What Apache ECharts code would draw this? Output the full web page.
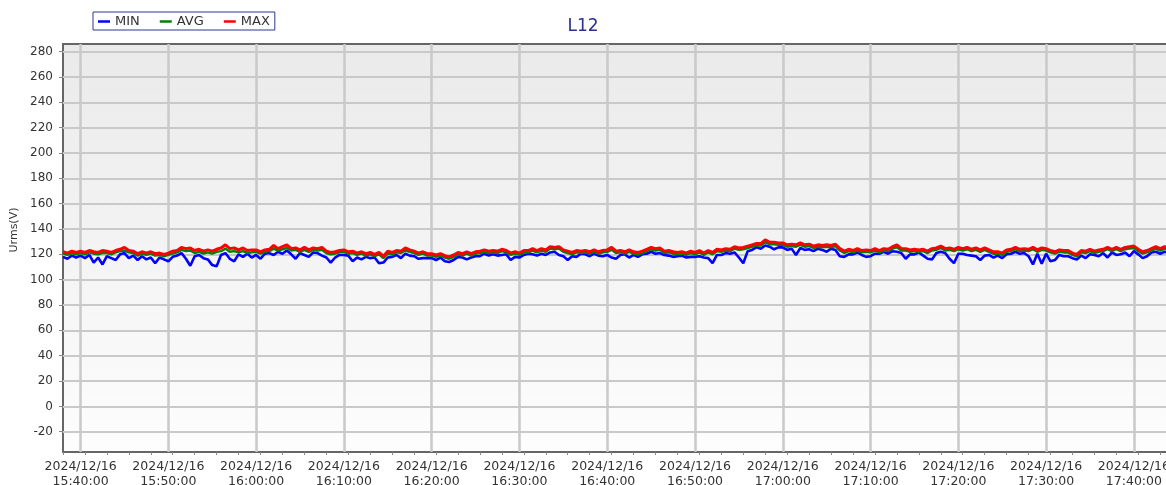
<!DOCTYPE html>
<html>
<head>
<meta charset="utf-8">
<title>L12</title>
<script src="https://cdn.jsdelivr.net/npm/echarts@6.0.0/dist/echarts.min.js"></script>
<style>
  html, body { margin: 0; padding: 0; background: #ffffff; }
  #chart { width: 1166px; height: 485px; }
</style>
</head>
<body>
<div id="chart"></div>
<script>
// Urms samples for phase pair L12, one reading every 30 s starting 2024/12/16 15:38:00 (UTC)
const dayUTC = Date.UTC(2024, 11, 16);
const startTime = dayUTC + (15 * 60 + 38) * 60000;
const stepMs = 30 * 1000;
const axisStart = dayUTC + (15 * 60 + 38) * 60000;
const axisEnd = dayUTC + (17 * 60 + 44) * 60000;

const seriesNames = ['MIN', 'AVG', 'MAX'];
const seriesColors = ['#0000ff', '#008000', '#ff0000'];
const seriesWidths = [2.6, 2.4, 3];
const yTickValues = [-20, 0, 20, 40, 60, 80, 100, 120, 140, 160, 180, 200, 220, 240, 260, 280];
const xTickTimes = ['15:40', '15:50', '16:00', '16:10', '16:20', '16:30', '16:40',
                    '16:50', '17:00', '17:10', '17:20', '17:30', '17:40'];

const minValues = [
  118,116.5,119,117.5,
  119,117,119.5,113.5,117.5,112,118.5,117,115.5,120,121,117,119,115.5,118.5,116,117.5,113,117.5,116,
  114.5,118,119,121,116.5,111,118.5,119.5,117,116,111.5,110.5,119.5,121,116.5,114.5,120,118,120.5,117.5,
  119.5,116.5,120.5,121,119.5,122,120.5,123,120,116.5,121,119.5,118,121.5,121,119,117.5,113.5,117.5,119.5,
  119.5,119,114.5,117.5,116,118,117,117.5,113,113.5,117.5,118,119.5,117,120.5,119,118.5,116.5,117,117,
  117,115.5,117.5,114.5,114,115.5,118,117.5,116,117.5,118.5,118.5,120.5,119,120,119,119.5,120,115.5,118,
  117.5,119.5,120.5,120,119,120.5,119.5,121.5,122,119.5,118.5,115.5,118.5,118,120.5,120,118.5,120.5,119,118.5,
  119.5,117.5,116.5,119.5,120,117.5,119.5,118,120,120.5,122,120.5,121,119.5,119,118,118.5,119,117.5,118,
  118,118.5,117.5,117,113,119.5,119.5,121,120.5,121.5,117.5,113,122.5,123.5,125.5,124.5,127,126,124,125.5,
  125.5,123.5,124.5,119.5,125,123.5,124,122.5,124.5,123.5,122,124.5,123.5,118.5,118,120,120,121.5,119.5,118,
  118.5,120.5,120.5,122,120.5,122.5,122,121,116.5,120,120,121.5,119,116.5,116,121,122,121,116.5,113,
  120.5,120.5,119.5,119,118.5,115.5,119,119.5,117.5,119,117,120,120.5,122,120.5,121,118.5,112,120.5,112.5,
  120.5,114.5,115.5,119.5,118.5,118.5,117,116,119,117,120,119.5,118.5,121,117.5,121.5,119.5,120,121.5,118.5,
  122.5,120,117,118.5,121.5,122,120.5,122,121
];

const avgValues = [
  120.5,119.5,121,120,
  121,120,121.5,120.5,120,121,121,120,121.5,122.5,123,121.5,121,119,120.5,119.5,120.5,119,119.5,118.5,
  119.5,120.5,121.5,123.5,122.5,123,121,122,120.5,121.5,120.5,122,122.5,124.5,122,122.5,121.5,122.5,121,121.5,
  122,120.5,122,122.5,124.5,123,124,125,123,123.5,122,123.5,122,123.5,123,123.5,121,120,120.5,121.5,
  122,120.5,121,119.5,120.5,119,120,118.5,120,117,120.5,120,121.5,121,123,122,121,119.5,120.5,119,
  119,118,119,117.5,116.5,118,120,119,120.5,119,120.5,121,122,121,121.5,121,122.5,121.5,119.5,120.5,
  119.5,121.5,121.5,123,121.5,123,122,124.5,124,124.5,122,121,120,121.5,121,121.5,120.5,122,120.5,121.5,
  122,123.5,121,121.5,120.5,122,120.5,120,121,122.5,124,123,123.5,121,121.5,120.5,120,120.5,119.5,121,
  120,121.5,119.5,121.5,120,122.5,122,123,122.5,124.5,123.5,124,125,126,127,127,129.5,128,128,127.5,
  127.5,126,126.5,126,127.5,126,126.5,125,126,125.5,126,125.5,126.5,123,121,122.5,121.5,123,121.5,122,
  121.5,123,121.5,123,122.5,124.5,125.5,123,123,122,122.5,122,122.5,121,123,123.5,125,123,123.5,122.5,
  124,123,124,122.5,123.5,122,123.5,122,120.5,120.5,119.5,122,122.5,124,122.5,123,122.5,124,122,123.5,
  123,121.5,120.5,122,121.5,121.5,119.5,118.5,121.5,121,122.5,121,122,122.5,124,122.5,124,122.5,124,124.5,
  125,122.5,120.5,121.5,123,124.5,123,124.5,123.5
];

const maxValues = [
  122,121,122.5,121.5,
  122.5,121.5,123,122,121.5,123,122.5,121.5,123,124,125.5,123,122.5,120.5,122,121,122,120.5,121,120,
  121,122.5,123,125.5,124.5,125,123,124,122.5,123.5,122.5,124,125,127.5,124.5,125,123.5,125,123,123.5,
  123.5,122,123.5,124,127,124.5,126,127.5,124.5,125,123.5,125.5,123.5,125,124.5,125.5,122.5,121.5,122,123,
  123.5,122,122.5,121,122,120.5,121.5,120,121.5,118.5,122.5,121.5,123,122.5,125,123.5,122.5,121,122,120.5,
  120.5,119.5,120.5,119,118,119.5,121.5,120.5,122,120.5,122,122.5,123.5,122.5,123,122.5,124,123,121,122,
  121,123,123,124.5,123,124.5,123.5,126,125.5,126,123.5,122.5,121.5,123,122.5,123,122,123.5,122,123,
  123.5,125.5,122.5,123,122,123.5,122,121.5,122.5,124,125.5,124.5,125,122.5,123,122,121.5,122,121,122.5,
  121.5,123,121,123,121.5,124,123.5,124.5,124,126,125,125.5,126.5,127.5,128.5,128.5,131.5,129.5,129.5,129,
  129,127.5,128,127.5,129,127.5,128,126.5,127.5,127,127.5,127,128,124.5,122.5,124,123,124.5,123,123.5,
  123,124.5,123,124.5,124,126,127.5,124.5,124.5,123.5,124,123.5,124,122.5,124.5,125,126.5,124.5,125,124,
  125.5,124.5,125.5,124,125,123.5,125,123.5,122,122,121,123.5,124,125.5,124,124.5,124,125.5,123.5,125,
  124.5,123,122,123.5,123,123,121,120,123,122.5,124,122.5,123.5,124,125.5,124,125.5,124,125.5,126,
  126.5,124,122,123,124.5,126,124.5,126,125
];

const valueLists = [minValues, avgValues, maxValues];

function clockToMs(hhmm) {
  const parts = hhmm.split(':');
  return dayUTC + (Number(parts[0]) * 60 + Number(parts[1])) * 60000;
}
const xTickValues = xTickTimes.map(clockToMs);
// small ticks every 2.5 minutes along the time axis
const xSmallTicks = [];
for (let t = axisStart; t <= axisEnd; t += 150000) xSmallTicks.push(t);

function pad2(n) { return (n < 10 ? '0' : '') + n; }
function formatTick(v) {
  const d = new Date(v);
  return d.getUTCFullYear() + '/' + pad2(d.getUTCMonth() + 1) + '/' + pad2(d.getUTCDate()) +
    '\n' + pad2(d.getUTCHours()) + ':' + pad2(d.getUTCMinutes()) + ':' + pad2(d.getUTCSeconds());
}

const chart = echarts.init(document.getElementById('chart'), null, { renderer: 'canvas' });

const font = 'DejaVu Sans, Verdana, sans-serif';
const gridLineColor = '#c9c9c9';
const frameColor = '#666666';

// plot grid: horizontal lines at every labelled voltage, vertical lines every 10 minutes
const gridLines = yTickValues.map(function (v) {
  return { yAxis: v, lineStyle: { color: gridLineColor, width: 2, type: 'solid' } };
}).concat(xTickValues.map(function (t) {
  return { xAxis: t, lineStyle: { color: gridLineColor, width: 2.5, type: 'solid' } };
}));

const lineSeries = seriesNames.map(function (name, k) {
  return {
    name: name,
    type: 'line',
    showSymbol: false,
    symbol: 'none',
    clip: true,
    z: 3,
    color: seriesColors[k],
    lineStyle: { color: seriesColors[k], width: seriesWidths[k] },
    data: valueLists[k].map(function (v, i) { return [startTime + i * stepMs, v]; })
  };
});

chart.setOption({
  animation: false,
  backgroundColor: '#ffffff',
  title: {
    text: 'L12',
    left: 'center',
    top: 13,
    textStyle: { fontFamily: font, fontSize: 17, fontWeight: 'normal', color: '#2b2f8f' }
  },
  legend: {
    data: seriesNames,
    left: 93,
    top: 12,
    padding: [3, 5, 2, 5],
    itemGap: 20,
    itemWidth: 12,
    itemHeight: 2.5,
    icon: 'rect',
    borderColor: '#2b3990',
    borderWidth: 1,
    borderRadius: 0,
    textStyle: { fontFamily: font, fontSize: 13, color: '#333333' }
  },
  grid: {
    left: 63,
    top: 44,
    right: -3,
    bottom: 33,
    outerBoundsMode: 'none',
    containLabel: false,
    show: true,
    borderColor: frameColor,
    borderWidth: 2,
    backgroundColor: {
      type: 'linear', x: 0, y: 0, x2: 0, y2: 1,
      colorStops: [
        { offset: 0, color: '#eaeaea' },
        { offset: 1, color: '#fdfdfd' }
      ]
    }
  },
  xAxis: {
    type: 'value',
    min: axisStart,
    max: axisEnd,
    axisLine: { show: true, onZero: false, lineStyle: { color: frameColor, width: 2 } },
    axisTick: { show: true, length: 3, customValues: xSmallTicks, lineStyle: { color: '#888888' } },
    splitLine: { show: false },
    axisLabel: {
      show: true,
      customValues: xTickValues,
      margin: 7,
      fontFamily: font,
      fontSize: 12.5,
      lineHeight: 15,
      color: '#333333',
      formatter: formatTick
    }
  },
  yAxis: {
    type: 'value',
    min: -36,
    max: 286,
    name: 'Urms(V)',
    nameLocation: 'middle',
    nameGap: 37,
    nameTextStyle: { fontFamily: font, fontSize: 11, color: '#333333', padding: [0, 0, 0, 36] },
    axisLine: { show: true, onZero: false, lineStyle: { color: frameColor, width: 2 } },
    axisTick: { show: true, length: 4, customValues: yTickValues, lineStyle: { color: '#888888' } },
    splitLine: { show: false },
    axisLabel: {
      customValues: yTickValues,
      margin: 10,
      fontFamily: font,
      fontSize: 12,
      color: '#333333'
    }
  },
  series: [{
    name: 'grid',
    type: 'line',
    data: [],
    z: 1,
    silent: true,
    markLine: {
      z: 1,
      silent: true,
      animation: false,
      symbol: ['none', 'none'],
      label: { show: false },
      emphasis: { disabled: true },
      data: gridLines
    }
  }].concat(lineSeries)
});
</script>
</body>
</html>
